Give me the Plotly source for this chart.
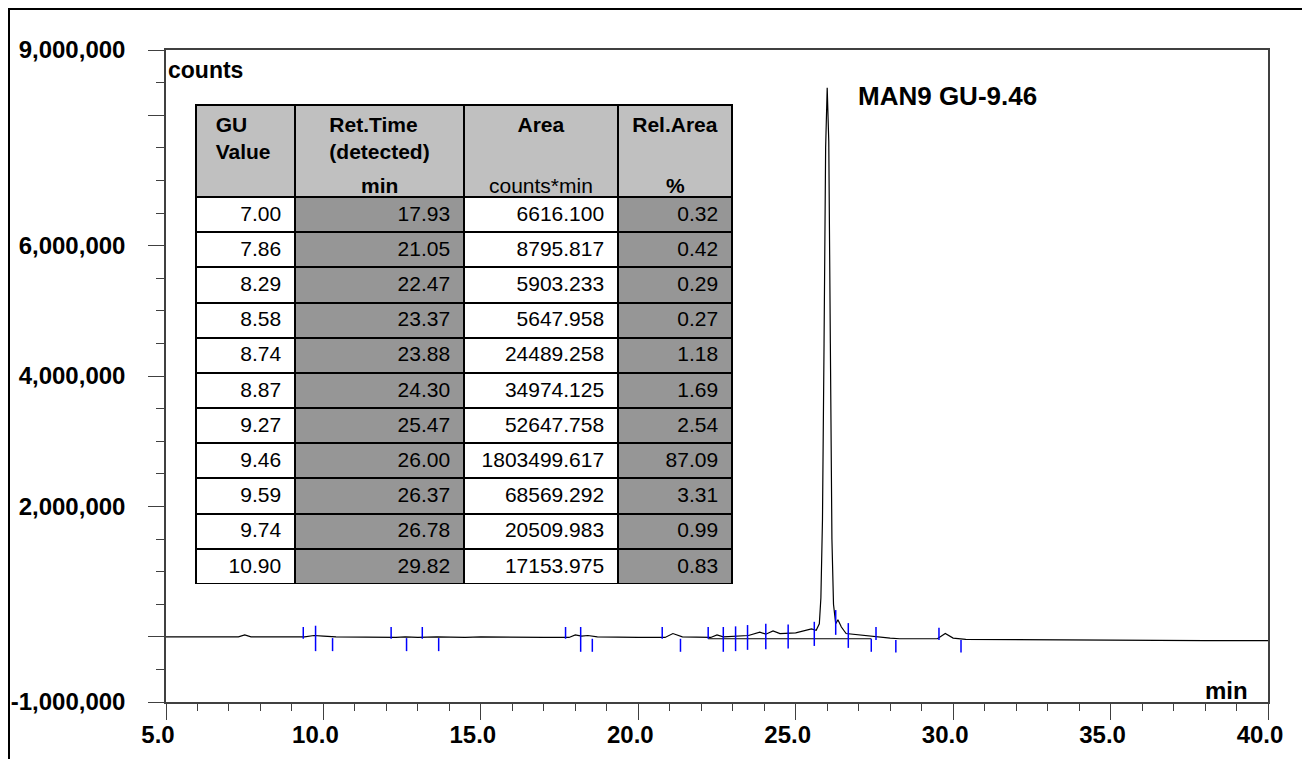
import plotly.graph_objects as go

# ---------------- data ----------------
gu_value = [7.00, 7.86, 8.29, 8.58, 8.74, 8.87, 9.27, 9.46, 9.59, 9.74, 10.90]
ret_time = [17.93, 21.05, 22.47, 23.37, 23.88, 24.30, 25.47, 26.00, 26.37, 26.78, 29.82]
area = [6616.100, 8795.817, 5903.233, 5647.958, 24489.258, 34974.125, 52647.758,
        1803499.617, 68569.292, 20509.983, 17153.975]
rel_area = [0.32, 0.42, 0.29, 0.27, 1.18, 1.69, 2.54, 87.09, 3.31, 0.99, 0.83]

# chromatogram trace (min, counts)
trace_time = [5.0, 7.3, 7.5, 7.7, 9.4, 9.7, 10.0, 10.4, 12.3, 12.6, 13.0, 13.3, 13.6,
              14.5, 15.0, 17.0, 17.8, 18.0, 18.2, 18.4, 18.7, 20.0, 20.85, 21.1, 21.4,
              22.3, 22.5, 22.7, 23.0, 23.5, 23.86, 24.05, 24.28, 24.5, 25.0, 25.3, 25.5,
              25.65, 25.75, 25.8, 25.85, 25.9, 25.95, 26.0, 26.05, 26.1, 26.15, 26.2,
              26.27, 26.34, 26.45, 26.6, 26.8, 27.0, 27.4, 28.0, 28.3, 29.5, 29.75,
              30.0, 30.4, 32.0, 35.0, 38.0, 40.0]
trace_counts = [0, 0, 30000, 0, 0, 20000, 10000, 0, -10000, 0, -10000, 0, 0,
                -10000, 0, -10000, -10000, 30000, 10000, 20000, 0, -10000, -10000, 50000, 0,
                -10000, 30000, 0, 10000, 20000, 70000, 40000, 90000, 50000, 60000, 90000, 120000,
                100000, 200000, 600000, 1800000, 4500000, 7500000, 8420000, 7600000, 4500000, 1500000, 500000,
                200000, 260000, 150000, 50000, 40000, 20000, 0, -20000, -30000, -30000, 50000,
                -20000, -40000, -40000, -50000, -60000, -60000]

# integration baseline segment
base_time = [22.22, 27.40]
base_counts = [-30000, -30000]

# peak delimiter marks (time, low, high in counts)
mark_time = [9.36, 9.75, 10.29, 12.15, 12.64, 13.14, 13.66, 17.69, 18.17, 18.54,
             20.76, 21.34, 22.22, 22.70, 23.09, 23.47, 24.05, 24.76, 25.59, 26.27,
             26.67, 27.40, 27.55, 28.18, 29.55, 30.25]
mark_low = [-30000, -220000, -220000, -30000, -220000, -30000, -220000, -30000, -230000, -230000,
            -30000, -230000, -30000, -230000, -220000, -200000, -190000, -180000, -140000, 30000,
            -170000, -230000, -50000, -240000, -50000, -240000]
mark_high = [150000, 170000, -20000, 150000, -20000, 150000, -20000, 150000, 150000, -30000,
             150000, -30000, 150000, 150000, 160000, 180000, 200000, 190000, 230000, 410000,
             210000, -30000, 150000, -50000, 140000, -50000]

x_ticks = [5, 10, 15, 20, 25, 30, 35, 40]
y_ticks = [-1000000, 0, 2000000, 4000000, 6000000, 8000000, 9000000]
y_tick_text = ["-1,000,000", "", "2,000,000", "4,000,000", "6,000,000", "", "9,000,000"]

# ---------------- layout geometry (screen pixels; page body has an 8px margin) ----------------
OFF = 8
W, H = 1310 - OFF, 759 - OFF
PLOT_L, PLOT_R, PLOT_T, PLOT_B = 166, 1268, 50, 702   # screen px
ML, MT = PLOT_L - OFF, PLOT_T - OFF
MR, MB = W - (PLOT_R - OFF), H - (PLOT_B - OFF)
PW, PH = PLOT_R - PLOT_L, PLOT_B - PLOT_T
FONT = "Arial, Liberation Sans, sans-serif"
TFS = 21   # table font size


def px(xs):
    return (xs - PLOT_L) / PW


def py(ys):
    return (PLOT_B - ys) / PH


fig = go.Figure()

fig.add_trace(go.Scatter(x=trace_time, y=trace_counts, mode="lines",
                         line=dict(color="black", width=1.2), showlegend=False,
                         hoverinfo="skip"))
fig.add_trace(go.Scatter(x=base_time, y=base_counts, mode="lines",
                         line=dict(color="black", width=1.2), showlegend=False,
                         hoverinfo="skip"))

mx, my = [], []
for t, lo, hi in zip(mark_time, mark_low, mark_high):
    mx += [t, t, None]
    my += [lo, hi, None]
fig.add_trace(go.Scatter(x=mx, y=my, mode="lines",
                         line=dict(color="#0000ff", width=1.5), showlegend=False,
                         hoverinfo="skip"))

# ---------------- table ----------------
col_edges = [196, 295, 464, 618, 732]
col_w = [col_edges[i + 1] - col_edges[i] for i in range(4)]
hpad = "\u00a0\u00a0"
pad = "\u00a0"
tbl_top, tbl_bot = 105, 584
header_h = 92
row_h = (tbl_bot - tbl_top - header_h) / len(gu_value)

fig.add_trace(go.Table(
    domain=dict(x=[px(col_edges[0]), px(col_edges[-1])], y=[py(tbl_bot), py(tbl_top)]),
    columnwidth=col_w,
    header=dict(
        values=[hpad + "<b>GU</b><br>" + hpad + "<b>Value</b>",
                "<b>Ret.Time<br>(detected)</b>",
                "<b><br>Area</b>",
                "<b><br>Rel.Area</b>"],
        align=["left", "center", "center", "center"],
        fill_color="#c0c0c0",
        line=dict(color="black", width=2),
        font=dict(family=FONT, size=TFS, color="black"),
        height=header_h,
    ),
    cells=dict(
        values=[[f"{v:.2f}" + pad for v in gu_value],
                [f"{v:.2f}" + pad for v in ret_time],
                [f"{v:.3f}" + pad for v in area],
                [f"{v:.2f}" + pad for v in rel_area]],
        align="right",
        fill_color=[["white"] * len(gu_value), ["#969696"] * len(gu_value),
                    ["white"] * len(gu_value), ["#969696"] * len(gu_value)],
        line=dict(color="black", width=2),
        font=dict(family=FONT, size=TFS, color="black"),
        height=row_h,
    ),
))

annotations = []
units = ["<b>min</b>", "counts*min", "<b>%</b>"]
for i, u in enumerate(units):
    cx = (col_edges[i + 1] + col_edges[i + 2]) / 2
    annotations.append(dict(x=px(cx), y=py(185), xref="paper", yref="paper", text=u,
                            showarrow=False, xanchor="center", yanchor="middle",
                            font=dict(family=FONT, size=TFS, color="black")))

annotations.append(dict(x=0, y=py(70), xref="paper", yref="paper", text="<b>counts</b>",
                        showarrow=False, xanchor="left", yanchor="middle",
                        font=dict(family=FONT, size=23, color="black")))
annotations.append(dict(x=px(1250), y=py(690), xref="paper", yref="paper", text="<b>min</b>",
                        showarrow=False, xanchor="right", yanchor="middle",
                        font=dict(family=FONT, size=24, color="black")))
annotations.append(dict(x=26.91, y=8290000, xref="x", yref="y", text="<b>MAN9 GU-9.46</b>",
                        showarrow=False, xanchor="left", yanchor="middle",
                        font=dict(family=FONT, size=26, color="black")))

shapes = [dict(type="rect", xref="paper", yref="paper",
               x0=px(OFF + 1), x1=px(1307), y0=py(800), y1=py(OFF + 1),
               line=dict(color="black", width=2), fillcolor="rgba(0,0,0,0)", layer="below")]

axis_col = "#404040"
fig.update_layout(
    width=W, height=H,
    margin=dict(l=ML, r=MR, t=MT, b=MB, pad=0, autoexpand=False),
    paper_bgcolor="white", plot_bgcolor="white",
    showlegend=False,
    font=dict(family=FONT, color="black"),
    xaxis=dict(range=[5, 40], tickmode="array", tickvals=x_ticks,
               ticktext=[f"{v:.1f}" for v in x_ticks], automargin=False,
               ticks="outside", ticklen=16, tickwidth=1, tickcolor=axis_col,
               showline=True, linecolor=axis_col, linewidth=1.5, mirror=True,
               showgrid=False, zeroline=False, ticklabelshift=-8, ticklabelstandoff=-6,
               tickfont=dict(family=FONT, size=24, color="black", weight="bold"),
               minor=dict(dtick=1, tick0=0, ticklen=7, ticks="outside", tickcolor=axis_col,
                          showgrid=False)),
    yaxis=dict(range=[-1000000, 9000000], tickmode="array", tickvals=y_ticks,
               ticktext=y_tick_text, automargin=False,
               ticks="outside", ticklen=16, tickwidth=1, tickcolor=axis_col,
               showline=True, linecolor=axis_col, linewidth=1.5, mirror=True,
               showgrid=False, zeroline=False, ticklabelstandoff=18,
               tickfont=dict(family=FONT, size=24, color="black", weight="bold"),
               minor=dict(dtick=500000, tick0=0, ticklen=8, ticks="outside", tickcolor=axis_col,
                          showgrid=False)),
    annotations=annotations,
    shapes=shapes,
)

fig.write_html("out.html")
